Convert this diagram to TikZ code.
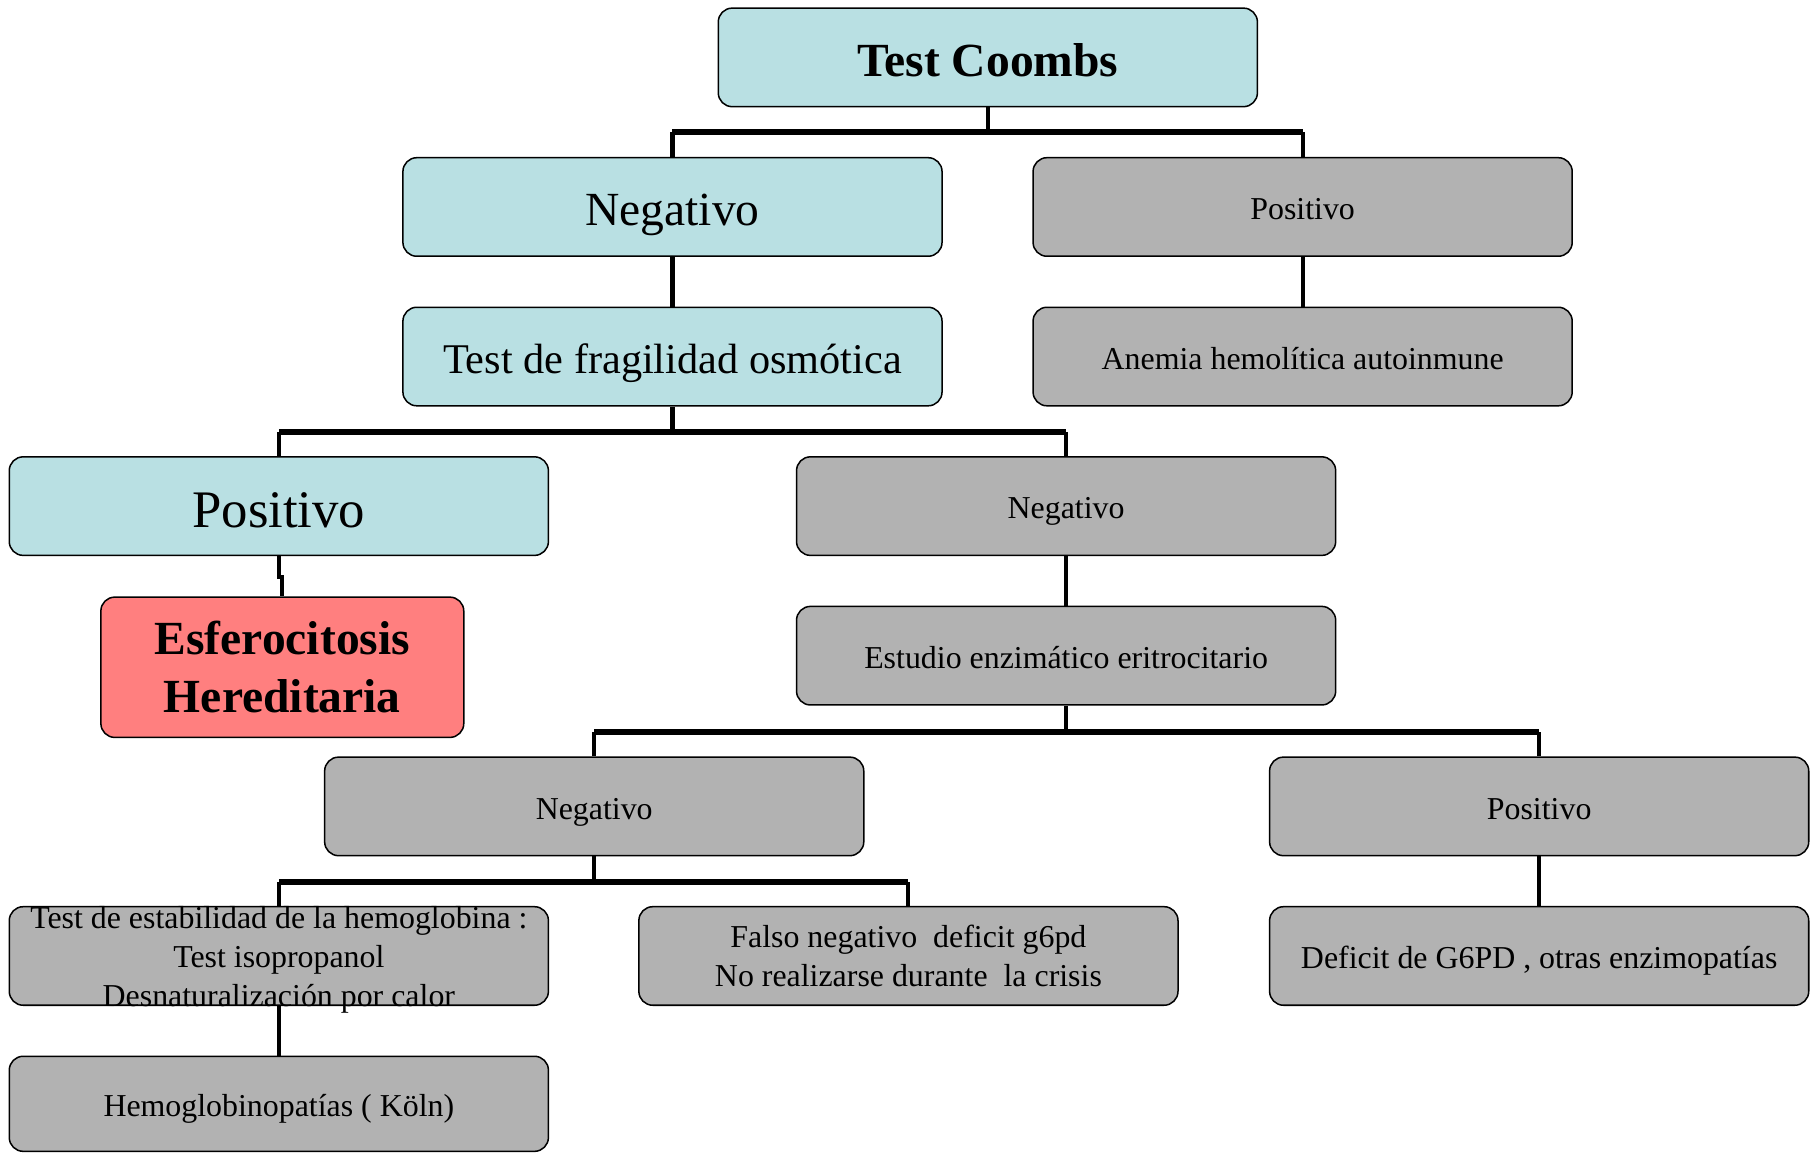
\documentclass[tikz,border=0pt]{standalone}
\usepackage{fontspec}
\setmainfont{Liberation Serif}
\definecolor{boxblue}{HTML}{B9E0E3}
\definecolor{boxgray}{HTML}{B2B2B2}
\definecolor{boxred}{HTML}{FF7F7F}
\begin{document}
\begin{tikzpicture}[x=1pt,y=-1pt,
  box/.style={draw=black, line width=1.3pt, rounded corners=12pt,
    minimum width=465pt, minimum height=85pt, inner sep=0pt,
    align=center, text=black},
  bluebox/.style={box, fill=boxblue},
  graybox/.style={box, fill=boxgray, font=\fontsize{27.5}{34}\selectfont},
  grayline/.style={graybox, text height=24.75pt, text depth=2.75pt},
  redbox/.style={box, fill=boxred, minimum width=313pt, minimum height=121pt,
    font=\fontsize{41}{50}\selectfont\bfseries},
  link/.style={line width=3.5pt},
  bar/.style={line width=5pt}]
\useasboundingbox (0,0) rectangle (1568,994);

% level 0
\node[bluebox, font=\fontsize{41}{48}\selectfont\bfseries, text height=36.9pt, text depth=4.1pt]
  (coombs) at (852,49.5) {Test Coombs};
% level 1
\node[bluebox, font=\fontsize{41}{48}\selectfont, text height=36.9pt, text depth=4.1pt]
  (neg1) at (580,178.5) {Negativo};
\node[grayline] (pos1) at (1123.5,178.5) {Positivo};
% level 2
\node[bluebox, font=\fontsize{36.5}{44}\selectfont, text height=32.85pt, text depth=3.65pt]
  (frag) at (580,307.5) {Test de fragilidad osmótica};
\node[grayline] (anemia) at (1123.5,307.5) {Anemia hemolítica autoinmune};
% level 3
\node[bluebox, font=\fontsize{45.5}{54}\selectfont, text height=40.95pt, text depth=4.55pt]
  (pos2) at (240.5,436.5) {Positivo};
\node[grayline] (neg2) at (919.5,436.5) {Negativo};
% level 4
\node[redbox] (esfero) at (243.5,575.5) {Esferocitosis\\Hereditaria};
\node[grayline] (estudio) at (919.5,565.5) {Estudio enzimático eritrocitario};
% level 5
\node[grayline] (neg3) at (512.5,695.5) {Negativo};
\node[grayline] (pos3) at (1327.5,695.5) {Positivo};
% level 6
\node[graybox] (estab) at (240.5,824.5) {};
\node[font=\fontsize{27.5}{33.5}\selectfont, align=center, inner sep=0pt] (estabtxt) at ([yshift=-3.5pt]estab.center)
  {Test de estabilidad de la hemoglobina :\\Test isopropanol\\Desnaturalización por calor};
\node[graybox] (falso) at (783.5,824.5) {Falso negativo~ deficit g6pd\\No realizarse durante~ la crisis};
\node[grayline] (deficit) at (1327.5,824.5) {Deficit de G6PD , otras enzimopatías};
% level 7
\node[grayline, minimum height=82pt] (hemo) at (240.5,952) {Hemoglobinopatías ( Köln)};

% Coombs split
\draw[link] (coombs.south) -- ++(0,21) coordinate (j1);
\draw[bar] (neg1.north |- j1) -- (pos1.north |- j1);
\draw[link] (neg1.north) -- (neg1.north |- j1);
\draw[link] (pos1.north) -- (pos1.north |- j1);
% straight links
\draw[link] (neg1) -- (frag);
\draw[link] (pos1) -- (anemia);
% osmotic fragility split
\draw[link] (frag.south) -- ++(0,22) coordinate (j2);
\draw[bar] (pos2.north |- j2) -- (neg2.north |- j2);
\draw[link] (pos2.north) -- (pos2.north |- j2);
\draw[link] (neg2.north) -- (neg2.north |- j2);
\draw[link] (pos2.south) -- ++(0,18) -| (esfero.north);
\draw[link] (neg2) -- (estudio);
% enzyme study split
\draw[link] (estudio.south) -- ++(0,23) coordinate (j3);
\draw[bar] (neg3.north |- j3) -- (pos3.north |- j3);
\draw[link] (neg3.north) -- (neg3.north |- j3);
\draw[link] (pos3.north) -- (pos3.north |- j3);
\draw[link] (pos3) -- (deficit);
% negative enzyme study split
\draw[link] (neg3.south) -- ++(0,22) coordinate (j4);
\draw[bar] (estab.north |- j4) -- (falso.north |- j4);
\draw[link] (estab.north) -- (estab.north |- j4);
\draw[link] (falso.north) -- (falso.north |- j4);
\draw[link] (estab.south) -- (hemo.north);
\end{tikzpicture}
\end{document}
